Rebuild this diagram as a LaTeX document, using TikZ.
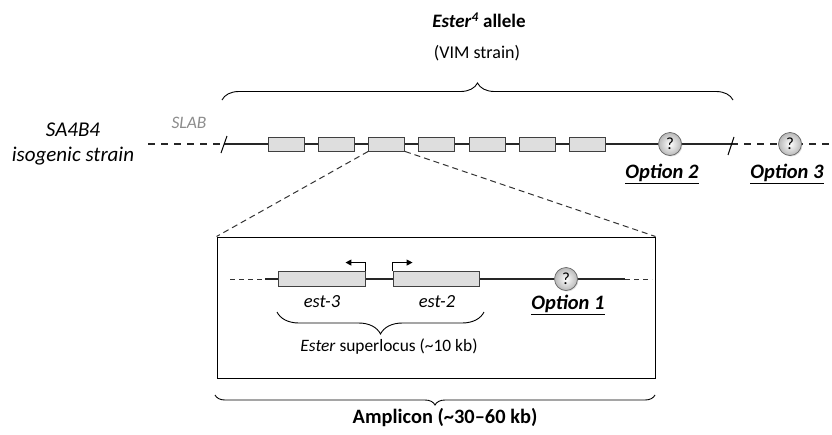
\documentclass[tikz,border=0pt]{standalone}
\usepackage{fontspec}
\setmainfont{Carlito}
\usetikzlibrary{positioning,calc,arrows.meta,decorations.pathreplacing,shadows}

\tikzset{
  gene/.style={draw=black!75, fill=black!13, line width=0.9pt, inner sep=0pt, minimum height=14pt},
  qmark/.style={circle, draw=black!60, line width=0.7pt, inner color=white, outer color=black!28,
    minimum size=23pt, inner sep=0pt, font=\fontsize{17}{17}\selectfont, drop shadow={opacity=0.25, shadow xshift=1pt, shadow yshift=-1pt}},
  optlbl/.style={font=\fontsize{20.5}{20.5}\selectfont\bfseries\itshape},
  dna/.style={line width=1.8pt, black!85},
  dnadash/.style={line width=1.8pt, black!85, dash pattern=on 7pt off 6pt},
  zoomline/.style={line width=1pt, black!80, dash pattern=on 6pt off 4pt},
  curly/.style={decorate, decoration={brace, amplitude=#1}, line width=0.9pt}
}

\begin{document}
\begin{tikzpicture}[x=1pt,y=-1pt]
\useasboundingbox (0,0) rectangle (832,434);

% strain and main line
\node[font=\fontsize{21}{25}\selectfont\itshape, align=center] (strain) at (73,144) {SA4B4\\isogenic strain};
\node[font=\fontsize{17.5}{17.5}\selectfont\itshape, text=black!45] (slab) at (189,123) {SLAB};

\coordinate (dashL) at (148,144);
\coordinate (cutL) at (224,144);
\coordinate (cutR) at (731,144);
\coordinate (dashR) at (832,144);

\draw[dnadash] (dashL) -- (cutL);
\draw[dna] (cutL) -- (cutR);
\draw[dnadash] (cutR) -- (dashR);
\draw[line width=1pt] ($(cutL)+(-3,9)$) -- ($(cutL)+(3,-8)$);
\draw[line width=1pt] ($(cutR)+(-3,11)$) -- ($(cutR)+(3,-7)$);

\foreach \i in {1,...,7}
  \node[gene, minimum width=36pt] (b\i) at ({286+50.3*(\i-1)},144) {};

\node[qmark] (q2) at (670,144) {?};
\node[qmark] (q3) at (790,144) {?};
\node[optlbl] (opt2) at (662,174) {\underline{Option 2}};
\node[optlbl] (opt3) at (787,174) {\underline{Option 3}};

% top brace
\coordinate (brL) at (222,100);
\coordinate (brR) at (733,100);
\draw[curly=17pt] (brL) -- (brR);
\node[font=\fontsize{19}{19}\selectfont\bfseries] (allele) at (479,20) {\textit{Ester}\textsuperscript{\textit{4}} allele};
\node[font=\fontsize{18}{18}\selectfont] (vim) at (477,53) {(VIM strain)};

% zoomed region
\node[draw, line width=1pt, minimum width=438pt, minimum height=141pt, inner sep=0pt] (zoom) at (436,307.5) {};
\draw[zoomline] (b3.south west) -- (zoom.north west);
\draw[zoomline] (b3.south east) -- (zoom.north east);

\coordinate (inL) at (230,279);
\coordinate (inA) at (265,279);
\coordinate (inB) at (625,279);
\coordinate (inR) at (652,279);
\draw[line width=1pt, black!80, dash pattern=on 5pt off 4pt] (inL) -- (inA);
\draw[dna] (inA) -- (inB);
\draw[line width=1pt, black!80, dash pattern=on 5pt off 4pt] (inB) -- (inR);

\node[gene, minimum width=87pt, minimum height=15pt] (est3) at (321.5,278.5) {};
\node[gene, minimum width=86pt, minimum height=15pt] (est2) at (436,278.5) {};
\draw[line width=1pt, -{Triangle[length=6pt,width=6pt]}] (est3.north east) -- ++(0,-8) -- ++(-20,0);
\draw[line width=1pt, -{Triangle[length=6pt,width=6pt]}] (est2.north west) -- ++(0,-8) -- ++(20,0);
\node[qmark] (q1) at (566,279) {?};

\node[font=\fontsize{18.5}{18.5}\selectfont\itshape] (lbl3) at (322,302) {est-3};
\node[font=\fontsize{18.5}{18.5}\selectfont\itshape] (lbl2) at (437,302) {est-2};
\node[optlbl] (opt1) at (568,305) {\underline{Option 1}};

\coordinate (slL) at (277,312);
\coordinate (slR) at (484,312);
\draw[curly=22pt, decoration={mirror}] (slL) -- (slR);
\node[font=\fontsize{17.4}{17.4}\selectfont] (superlocus) at (389,347) {\textit{Ester} superlocus (\textasciitilde10 kb)};

% bottom brace
\coordinate (amL) at (215,395);
\coordinate (amR) at (655,395);
\draw[curly=10pt, decoration={mirror}] (amL) -- (amR);
\node[font=\fontsize{20.4}{20.4}\selectfont\bfseries] (amplicon) at (445,418) {Amplicon (\textasciitilde30--60 kb)};

\end{tikzpicture}
\end{document}
